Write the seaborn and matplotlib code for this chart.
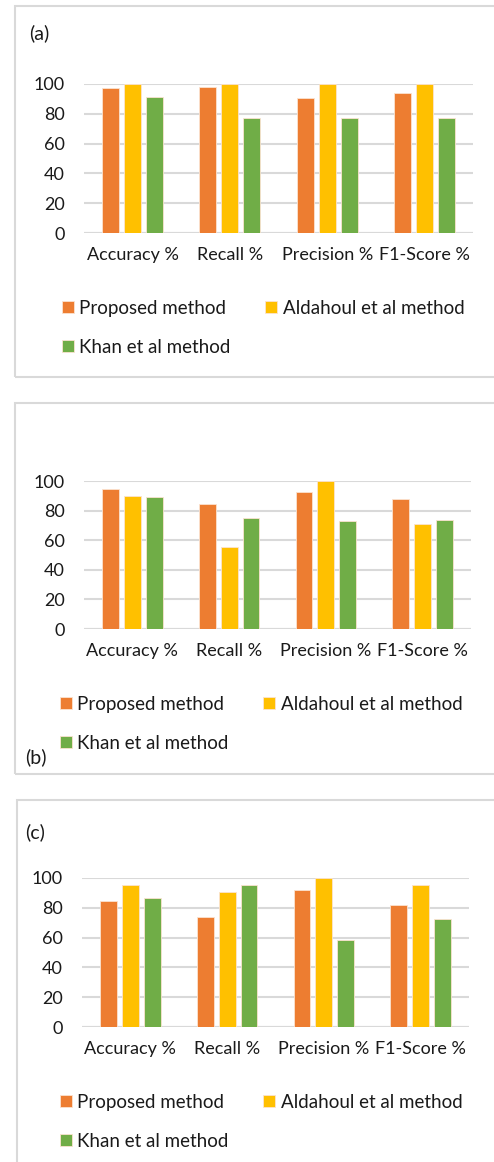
import pandas as pd
import matplotlib.pyplot as plt
import seaborn as sns
from matplotlib.patches import Rectangle

metrics = ['Accuracy %', 'Recall %', 'Precision %', 'F1-Score %']
methods = ['Proposed method', 'Aldahoul et al method', 'Khan et al method']

# panel (a)
a_proposed = [97.1, 98.0, 90.8, 94.2]
a_aldahoul = [100, 100, 100, 100]
a_khan = [91.0, 77.4, 77.4, 77.4]

# panel (b)
b_proposed = [94.8, 84.3, 92.4, 88.1]
b_aldahoul = [89.7, 55.4, 100, 71.1]
b_khan = [89.2, 74.7, 72.9, 73.8]

# panel (c)
c_proposed = [84.5, 73.8, 91.9, 81.8]
c_aldahoul = [95.3, 90.6, 100, 95.1]
c_khan = [86.3, 95.1, 58.3, 72.4]

colors = ['#ED7D31', '#FFC000', '#70AD47']
text_color = '#1a1a1a'
grid_color = '#D9D9D9'

W, H = 494, 1162


def to_long(proposed, aldahoul, khan):
    rows = []
    for name, vals in zip(methods, [proposed, aldahoul, khan]):
        for m, v in zip(metrics, vals):
            rows.append({'metric': m, 'method': name, 'value': v})
    return pd.DataFrame(rows)


sns.set_style('white')
plt.rcParams['font.family'] = ['Lato', 'DejaVu Sans']
plt.rcParams['text.color'] = text_color

fig = plt.figure(figsize=(W / 100, H / 100), dpi=100)


def px_axes(x0, x1, y_top, y_bot):
    return fig.add_axes([x0 / W, 1 - y_bot / H, (x1 - x0) / W, (y_bot - y_top) / H])


def draw_panel(data, ax_box, label, label_xy, legend_xy, frame):
    # light grey frame round the panel
    fx0, fy0, fx1, fy1 = frame
    fig.patches.append(Rectangle((fx0 / W, 1 - fy1 / H), (fx1 - fx0) / W, (fy1 - fy0) / H,
                                 transform=fig.transFigure, fill=False,
                                 edgecolor=grid_color, linewidth=1.5))

    ax = px_axes(*ax_box)
    sns.barplot(data=data, x='metric', y='value', hue='method', order=metrics,
                hue_order=methods, palette=colors, saturation=1, width=0.68, gap=0.23,
                edgecolor='#fbe3d0', linewidth=0.6, ax=ax, zorder=3)
    ax.set_ylim(0, 100)
    ax.set_xlim(-0.5, 3.5)
    ax.set_yticks(range(0, 101, 20))
    ax.yaxis.grid(True, color=grid_color, linewidth=1.5, zorder=0)
    ax.set_axisbelow(True)
    for s in ['top', 'right', 'left', 'bottom']:
        ax.spines[s].set_visible(False)
    ax.axhline(0, color=grid_color, linewidth=1.5, zorder=1)
    ax.set_xlabel('')
    ax.set_ylabel('')
    ax.tick_params(axis='y', length=0, pad=14, labelsize=13, labelcolor=text_color)
    ax.tick_params(axis='x', length=0, pad=10, labelsize=13, labelcolor=text_color)

    handles, labels = ax.get_legend_handles_labels()
    ax.get_legend().remove()
    order = [0, 2, 1]
    leg = fig.legend([handles[i] for i in order], [labels[i] for i in order],
                     loc='upper left', bbox_to_anchor=(legend_xy[0] / W, 1 - legend_xy[1] / H),
                     ncol=2, frameon=False, fontsize=13.5, borderpad=0, borderaxespad=0,
                     handlelength=0.62, handleheight=0.62, handletextpad=0.3,
                     columnspacing=1.85, labelspacing=1.15)
    for t in leg.get_texts():
        t.set_color(text_color)

    fig.text(label_xy[0] / W, 1 - label_xy[1] / H, label, fontsize=14,
             ha='left', va='center', color=text_color)


draw_panel(to_long(a_proposed, a_aldahoul, a_khan), (84, 473, 84, 233),
           '(a)', (29, 33), (62, 300), (15, 6, 520, 377))
draw_panel(to_long(b_proposed, b_aldahoul, b_khan), (84, 471, 481, 629),
           '(b)', (25, 757), (60, 696), (15, 403, 520, 774))
draw_panel(to_long(c_proposed, c_aldahoul, c_khan), (82, 469, 878, 1027),
           '(c)', (25, 832), (60, 1094), (17, 800, 520, 1200))

fig.savefig('out.png', dpi=100)
